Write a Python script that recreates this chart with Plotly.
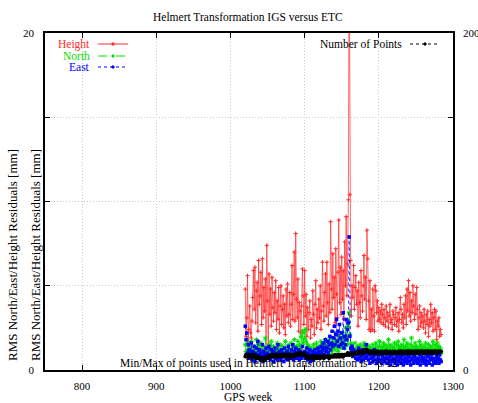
import plotly.graph_objects as go

# ---------------- data ----------------
height = [
    4.8, 2.0, 3.1, 5.6, 1.7, 2.4, 3.8, 2.2, 1.9, 2.9,
    4.3, 5.9, 3.6, 6.1, 2.8, 4.7, 5.2, 2.3, 6.5, 3.9,
    4.4, 5.8, 2.7, 6.6, 3.1, 4.9, 3.5, 5.4, 1.3, 7.4,
    4.1, 1.2, 5.7, 3.3, 4.8, 2.6, 5.5, 3.7, 2.9, 4.6,
    3.4, 5.3, 2.4, 4.1, 3.0, 4.9, 2.2, 3.8, 5.0, 2.7,
    3.6, 4.4, 2.5, 3.9, 2.1, 4.8, 3.2, 5.1, 2.8, 3.3,
    4.6, 2.6, 3.9, 6.2, 3.0, 4.5, 7.0, 2.9, 8.1, 4.2,
    3.1, 5.4, 2.3, 4.0, 3.5, 2.2, 3.8, 6.0, 4.4, 2.7,
    5.9, 3.2, 4.5, 2.0, 3.7, 2.4, 3.4, 4.1, 1.9, 3.0,
    2.6, 4.7, 3.3, 2.1, 3.9, 5.3, 2.5, 3.6, 2.8, 4.2,
    3.1, 5.0, 2.4, 3.5, 6.4, 3.8, 2.9, 4.6, 5.7, 3.2,
    6.4, 4.0, 2.7, 5.1, 3.4, 8.8, 4.8, 3.6, 6.9, 4.3,
    5.5, 2.8, 7.2, 4.5, 3.1, 5.8, 8.9, 4.0, 6.1, 3.3,
    6.7, 4.2, 5.9, 3.0, 7.6, 5.0, 9.1, 4.4, 6.3, 10.1,
    26.0, 10.4, 6.5, 3.2, 5.0, 4.3, 6.2, 3.6, 4.9, 5.6,
    3.9, 4.7, 2.6, 5.2, 4.0, 3.1, 5.9, 4.4, 3.5, 5.0,
    6.8, 4.2, 5.5, 3.0, 8.3, 6.6, 4.1, 2.4, 5.3, 2.3,
    3.6, 2.4, 4.8, 3.2, 2.3, 5.0, 4.7, 3.4, 4.1, 2.9,
    3.7, 3.0, 3.5, 2.8, 3.9, 3.3, 2.7, 3.6, 3.1, 2.6,
    3.8, 2.9, 3.4, 2.5, 3.2, 3.9, 2.8, 3.0, 2.4, 3.5,
    3.3, 2.7, 3.1, 3.7, 2.6, 2.9, 3.4, 2.3, 3.0, 4.3,
    3.6, 2.8, 3.3, 2.5, 3.9, 3.1, 4.4, 2.7, 4.8, 3.5,
    5.3, 3.2, 4.6, 2.9, 4.1, 3.4, 5.0, 3.8, 3.0, 4.5,
    3.3, 4.9, 3.6, 2.4, 3.1, 3.8, 2.6, 3.4, 2.8, 3.2,
    2.5, 3.6, 2.9, 2.2, 3.3, 2.7, 3.5, 2.0, 3.0, 2.6,
    3.9, 2.8, 3.4, 2.3, 3.1, 3.6, 2.4, 3.5, 1.8, 2.9,
    2.6, 3.1, 2.0, 2.4, 2.1,
]

north = [
    1.5, 1.1, 0.9, 1.6, 1.2, 0.8, 1.3, 1.0, 1.7, 0.9,
    1.2, 0.7, 1.4, 1.1, 0.9, 1.8, 1.0, 1.3, 0.8, 1.5,
    1.1, 1.6, 0.9, 1.2, 0.7, 1.4, 1.0, 1.9, 1.1, 0.8,
    1.3, 1.0, 1.5, 0.8, 1.2, 1.7, 0.9, 1.1, 1.4, 1.0,
    0.8, 1.3, 1.1, 1.6, 0.9, 1.2, 1.0, 1.5, 0.7, 1.1,
    1.4, 0.9, 1.2, 1.0, 1.7, 1.1, 0.8, 1.3, 1.0, 1.5,
    1.2, 0.9, 1.6, 1.1, 1.3, 0.8, 1.8, 1.2, 1.0, 1.4,
    1.1, 1.7, 0.9, 1.5, 1.2, 2.0, 1.4, 2.3, 1.6, 2.2,
    1.9, 2.4, 1.7, 1.3, 1.5, 1.1, 1.4, 1.0, 1.3, 0.9,
    1.2, 1.0, 1.5, 0.8, 1.3, 1.1, 1.6, 0.9, 1.2, 1.4,
    1.0, 1.3, 1.7, 1.1, 1.4, 0.9, 1.5, 1.2, 1.8, 1.0,
    1.4, 1.1, 1.6, 1.3, 1.9, 1.2, 1.5, 1.0, 1.7, 1.3,
    1.6, 1.2, 2.1, 1.4, 1.8, 1.1, 1.5, 2.0, 1.3, 1.7,
    1.4, 2.2, 1.6, 1.9, 1.3, 2.5, 1.8, 2.0, 1.5, 2.6,
    3.4, 2.1, 1.6, 1.2, 1.5, 1.0, 1.3, 1.1, 1.6, 0.9,
    1.2, 1.4, 1.0, 1.3, 0.8, 1.5, 1.1, 1.2, 0.9, 1.4,
    1.6, 1.1, 1.3, 0.9, 1.5, 1.2, 1.0, 1.4, 1.1, 1.3,
    0.9, 1.2, 1.5, 1.0, 1.3, 1.1, 1.6, 1.2, 0.9, 1.4,
    1.1, 1.7, 1.2, 1.4, 1.0, 1.3, 1.6, 1.1, 1.5, 1.2,
    1.4, 1.0, 1.3, 1.8, 1.1, 1.5, 1.2, 1.0, 1.4, 1.1,
    1.3, 1.6, 1.0, 1.2, 1.5, 1.1, 1.7, 1.3, 1.0, 1.4,
    1.2, 1.5, 1.1, 1.3, 1.8, 1.0, 1.4, 1.2, 1.6, 1.1,
    1.3, 1.0, 1.5, 1.2, 1.9, 1.1, 1.4, 1.0, 1.3, 1.6,
    1.2, 1.4, 1.0, 1.3, 1.1, 1.7, 1.2, 1.5, 1.0, 1.3,
    1.1, 1.4, 1.2, 1.6, 1.0, 1.3, 1.1, 1.5, 1.2, 1.0,
    1.4, 1.1, 1.3, 1.7, 1.0, 1.2, 1.5, 1.1, 1.3, 1.6,
    1.2, 1.4, 1.1, 1.3, 1.0,
]

east = [
    2.6, 1.8, 2.2, 1.0, 1.5, 0.7, 1.2, 0.9, 1.6, 0.6,
    1.1, 0.8, 1.4, 0.5, 1.0, 1.3, 0.7, 1.7, 0.9, 1.2,
    0.6, 1.0, 0.8, 1.5, 0.5, 1.1, 0.9, 0.6, 1.3, 0.8,
    1.0, 0.7, 1.4, 0.9, 0.6, 1.2, 0.8, 1.1, 0.5, 0.9,
    1.3, 0.7, 1.0, 0.6, 1.5, 0.8, 1.1, 0.9, 0.6, 1.2,
    0.8, 1.0, 0.5, 1.3, 0.9, 0.7, 1.1, 0.6, 1.4, 0.8,
    1.0, 0.7, 1.2, 0.9, 1.5, 0.6, 1.1, 0.8, 1.3, 0.7,
    1.0, 0.8, 1.2, 0.6, 1.1, 0.9, 0.7, 1.4, 1.0, 0.8,
    1.1, 0.7, 0.9, 1.3, 0.6, 1.0, 0.8, 1.2, 0.5, 0.9,
    0.7, 1.1, 0.6, 0.9, 1.2, 0.8, 1.0, 0.7, 1.3, 0.9,
    1.1, 0.8, 1.4, 1.0, 1.2, 1.6, 0.9, 1.3, 1.8, 1.1,
    1.3, 1.7, 1.0, 1.5, 2.0, 1.2, 1.6, 2.3, 1.4, 1.9,
    2.6, 1.5, 2.1, 3.0, 1.7, 2.3, 1.4, 2.7, 1.9, 1.5,
    2.2, 1.6, 3.4, 1.3, 2.0, 1.5, 3.0, 1.8, 2.4, 2.8,
    7.9, 2.0, 1.3, 1.1, 1.4, 0.8, 1.2, 0.9, 1.0, 0.7,
    1.1, 0.6, 0.9, 1.3, 0.7, 1.0, 0.5, 0.8, 1.2, 0.6,
    0.9, 1.2, 0.7, 1.5, 0.8, 1.0, 0.6, 1.1, 0.4, 0.9,
    0.7, 1.0, 0.5, 0.8, 1.2, 0.6, 0.9, 0.4, 1.1, 0.7,
    0.5, 0.9, 0.6, 1.0, 0.4, 0.8, 0.6, 1.1, 0.5, 0.7,
    0.9, 0.4, 0.7, 1.0, 0.5, 0.8, 0.3, 0.6, 0.9, 0.5,
    0.7, 1.0, 0.4, 0.6, 0.8, 0.3, 0.9, 0.5, 0.7, 1.1,
    0.4, 0.8, 0.6, 0.3, 0.9, 0.5, 0.7, 1.0, 0.4, 0.6,
    0.8, 0.5, 1.0, 0.3, 0.7, 0.6, 0.9, 0.4, 0.8, 0.5,
    0.6, 1.1, 0.4, 0.7, 0.5, 0.9, 0.3, 0.6, 0.8, 0.5,
    0.7, 0.4, 1.0, 0.6, 0.3, 0.8, 0.5, 0.9, 0.4, 0.7,
    0.6, 0.9, 0.3, 0.7, 0.5, 1.0, 0.4, 0.6, 0.8, 0.5,
    0.7, 0.4, 0.9, 0.6, 0.5,
]

num_points = [
    8, 9, 8, 8, 9, 8, 9, 8, 8, 9,
    8, 8, 9, 8, 7, 8, 8, 7, 8, 7,
    7, 6, 7, 6, 7, 7, 6, 7, 8, 7,
    8, 8, 7, 8, 8, 9, 8, 8, 9, 8,
    9, 8, 9, 9, 8, 9, 9, 8, 9, 9,
    9, 8, 9, 9, 9, 8, 9, 9, 8, 9,
    9, 9, 8, 9, 9, 9, 8, 9, 9, 9,
    10, 9, 9, 10, 9, 10, 9, 9, 10, 9,
    10, 9, 8, 7, 8, 8, 7, 8, 8, 7,
    8, 8, 7, 8, 8, 8, 7, 8, 8, 8,
    8, 7, 8, 8, 8, 8, 7, 8, 8, 8,
    8, 8, 8, 7, 8, 8, 8, 8, 8, 8,
    8, 9, 8, 8, 8, 9, 8, 8, 9, 8,
    9, 9, 8, 9, 9, 9, 9, 9, 10, 9,
    9, 10, 9, 10, 10, 9, 10, 10, 10, 10,
    10, 10, 11, 10, 10, 11, 10, 11, 11, 10,
    11, 12, 11, 11, 12, 11, 11, 11, 10, 11,
    11, 10, 11, 11, 10, 10, 11, 10, 10, 11,
    10, 10, 10, 11, 10, 10, 10, 10, 11, 10,
    10, 11, 10, 10, 10, 11, 10, 10, 10, 11,
    10, 10, 11, 10, 10, 10, 10, 11, 10, 10,
    11, 10, 10, 11, 11, 10, 11, 10, 11, 11,
    10, 11, 11, 10, 11, 11, 11, 10, 11, 11,
    11, 10, 11, 11, 11, 10, 11, 11, 11, 11,
    10, 11, 11, 11, 10, 11, 11, 11, 11, 10,
    11, 11, 11, 10, 11, 11, 11, 11, 11, 10,
    11, 11, 11, 11, 11,
]

first_week = 1020
weeks = list(range(first_week, first_week + len(height)))

x_ticks = [800, 900, 1000, 1100, 1200, 1300]
y_ticks = [0, 5, 10, 15, 20]
y_ticktext = ["0", "", "", "", "20"]
y2_ticks = [0, 50, 100, 150, 200]
y2_ticktext = ["0", "", "", "", "200"]

title_text = "Helmert Transformation IGS versus ETC"
xlabel = "GPS week"
ylabel = "RMS North/East/Height Residuals [mm]"
note_text = "Min/Max of points used in Helmert Transformation is &lt;6/12&gt;"

# ---------------- figure ----------------
W, H = 478, 403
L, R, T, B = 45, 453, 33, 370
FONT = "Liberation Serif"

def px(x):
    return (x - L) / (R - L)

def py(y):
    return (B - y) / (B - T)

RED = "#ff2a2a"
GREEN = "#00e000"
BLUE = "#0000ff"
GRID = "#c8c8c8"

fig = go.Figure()

fig.add_trace(go.Scatter(
    x=weeks, y=num_points, yaxis="y2", mode="lines+markers",
    line=dict(color="black", width=3, dash="dot"),
    marker=dict(symbol="circle", size=4, color="black"),
    showlegend=False))
fig.add_trace(go.Scatter(
    x=weeks, y=height, mode="lines+markers",
    line=dict(color=RED, width=0.7),
    marker=dict(symbol="cross-thin", size=3, line=dict(color=RED, width=1)),
    showlegend=False))
fig.add_trace(go.Scatter(
    x=weeks, y=north, mode="lines+markers",
    line=dict(color=GREEN, width=1, dash="dash"),
    marker=dict(symbol="asterisk-open", size=4, line=dict(color=GREEN, width=1)),
    showlegend=False))
fig.add_trace(go.Scatter(
    x=weeks, y=east, mode="lines+markers",
    line=dict(color=BLUE, width=0.8, dash="dot"),
    marker=dict(symbol="square", size=3.5, color=BLUE),
    showlegend=False))

axis_font = dict(family=FONT, size=11, color="black")

fig.update_layout(
    width=W, height=H, autosize=False,
    margin=dict(l=L, r=W - R, t=T, b=H - B, pad=0, autoexpand=False),
    paper_bgcolor="white", plot_bgcolor="white",
    font=axis_font,
    xaxis=dict(range=[750, 1300], tickvals=x_ticks, ticks="inside", ticklen=5,
               tickcolor="black", showgrid=True, gridcolor=GRID, griddash="1px,2px",
               gridwidth=1, showline=True, linecolor="black", linewidth=1.5,
               mirror="ticks", zeroline=False, tickfont=axis_font,
               ticklabelstandoff=5, automargin=False),
    yaxis=dict(range=[0, 20], tickvals=y_ticks, ticktext=y_ticktext, ticks="inside",
               ticklen=5, tickcolor="black", showgrid=True, gridcolor=GRID,
               griddash="1px,2px", showline=True, linecolor="black", linewidth=1.5,
               mirror=True, zeroline=False, tickfont=axis_font, ticklabelstandoff=7,
               automargin=False),
    yaxis2=dict(range=[0, 200], tickvals=y2_ticks, ticktext=y2_ticktext,
                overlaying="y", side="right", ticks="inside", ticklen=5,
                tickcolor="black", showgrid=False, showline=True, linecolor="black",
                linewidth=1.5, zeroline=False, tickfont=axis_font, ticklabelstandoff=6,
                automargin=False),
)

ann = []

def text_at(text, x, y, size=11.5, color="black", xanchor="center", angle=0):
    ann.append(dict(text=text, x=px(x), y=py(y), xref="paper", yref="paper",
                    xanchor=xanchor, yanchor="middle", textangle=angle,
                    showarrow=False, font=dict(family=FONT, size=size, color=color)))

text_at(title_text, 248, 17)
text_at(xlabel, 248, 397)
text_at(ylabel, 12, 255, size=13, angle=-90)
text_at(ylabel, 35, 255, size=13, angle=-90)
text_at(note_text, 118, 363, xanchor="left")

legend_items = [("Height", RED, "solid", 44), ("North", GREEN, "dash", 56),
                ("East", BLUE, "dot", 67)]
shapes = []
for name, col, dash, yy in legend_items:
    text_at(name, 92, yy, color=col, xanchor="right")
    shapes.append(dict(type="line", xref="paper", yref="paper",
                       x0=px(98), x1=px(128), y0=py(yy), y1=py(yy),
                       line=dict(color=col, width=1, dash=dash)))
    shapes.append(dict(type="rect", xref="paper", yref="paper",
                       x0=px(112), x1=px(114), y0=py(yy - 1), y1=py(yy + 1),
                       line=dict(color=col, width=1), fillcolor=col))

text_at("Number of Points", 404, 44, xanchor="right")
shapes.append(dict(type="line", xref="paper", yref="paper",
                   x0=px(410), x1=px(440), y0=py(44), y1=py(44),
                   line=dict(color="black", width=1, dash="dot")))
shapes.append(dict(type="rect", xref="paper", yref="paper",
                   x0=px(424), x1=px(426), y0=py(43), y1=py(45),
                   line=dict(color="black", width=1), fillcolor="black"))

fig.update_layout(annotations=ann, shapes=shapes)

post = ("document.body.style.margin='0';document.body.style.padding='0';"
        "document.body.style.overflow='hidden';"
        "var gd=document.getElementById('{plot_id}');"
        "Plotly.relayout(gd,{width:%d,height:%d});" % (W, H))
fig.write_html("out.html", post_script=post, config={"displayModeBar": False})
